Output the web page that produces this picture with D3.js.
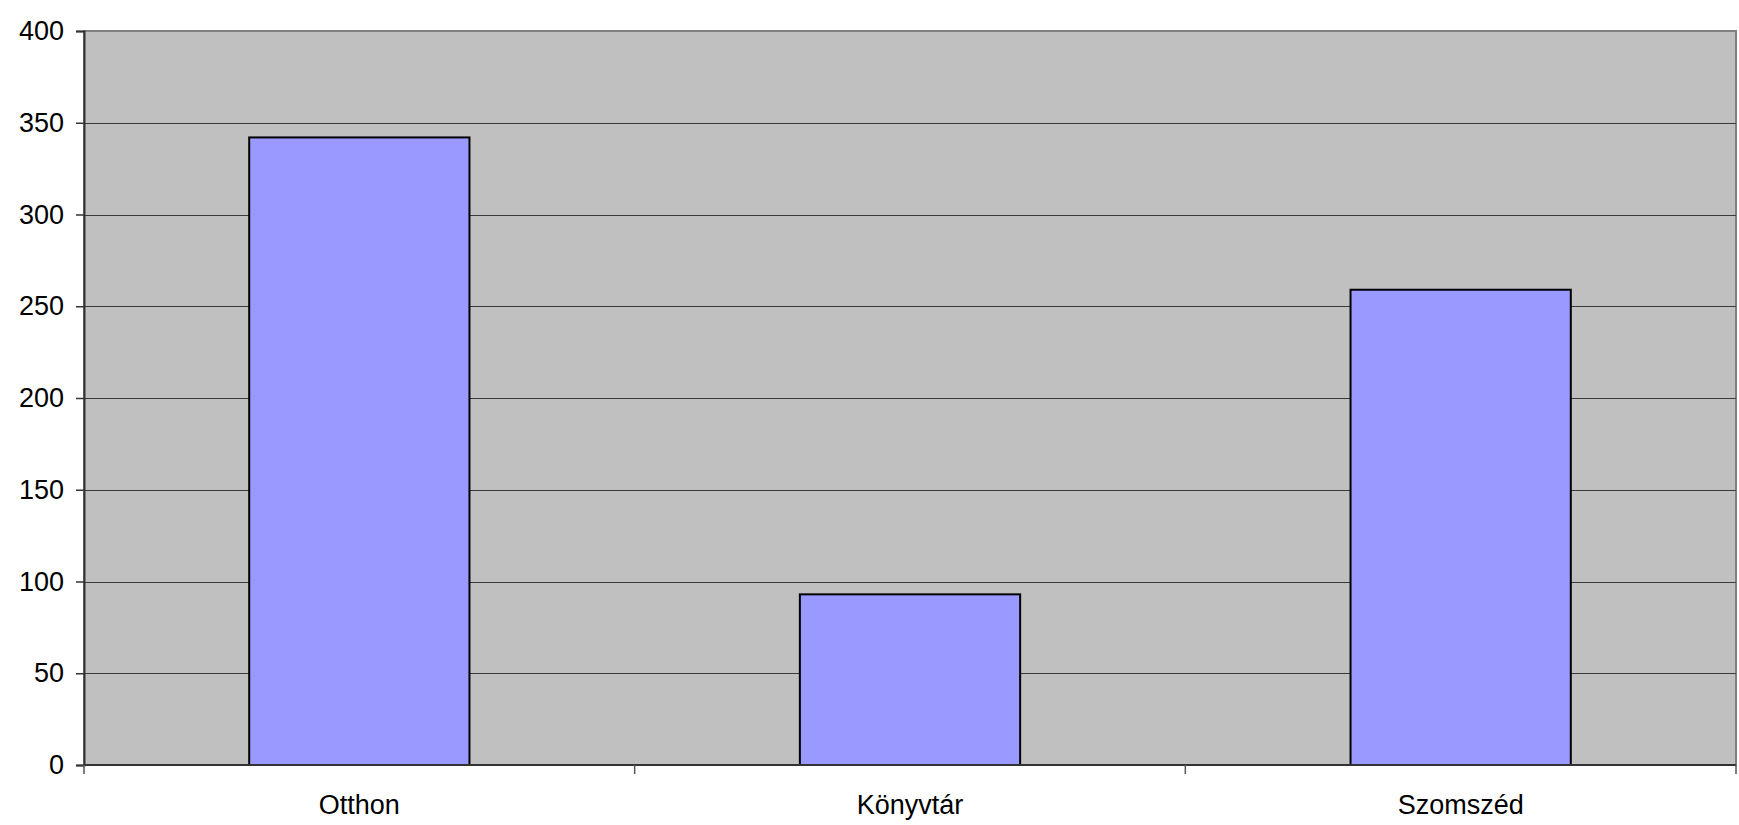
<!DOCTYPE html>
<html>
<head>
<meta charset="utf-8">
<script src="https://cdn.jsdelivr.net/npm/d3@7"></script>
<style>
  html, body { margin: 0; padding: 0; background: #fff; }
</style>
</head>
<body>
<div id="chart"></div>
<script>
// Data.
var categories = ['Otthon', 'Könyvtár', 'Szomszéd'];
var values = [342, 93, 259];
var yTicks = [0, 50, 100, 150, 200, 250, 300, 350, 400];

var width = 1739, height = 825;
var margin = { left: 84, top: 31, right: 3, bottom: 60 };
var fontFamily = 'Arial, "Liberation Sans", sans-serif';
var fontSize = 27;

function translate(x, y) {
  return 'translate(' + x + ', ' + y + ')';
}

var svg = d3.select('#chart').append('svg')
  .attr('width', width)
  .attr('height', height);

var innerW = width - margin.left - margin.right;
var innerH = height - margin.top - margin.bottom;

var g = svg.append('g')
  .attr('transform', translate(margin.left, margin.top));

var x = d3.scaleBand()
  .domain(categories)
  .range([0, innerW])
  .paddingInner(0.6)
  .paddingOuter(0.3);

var y = d3.scaleLinear()
  .domain([0, 400])
  .range([innerH, 0]);

// Plot background.
g.append('rect')
  .attr('x', 0)
  .attr('y', 0)
  .attr('width', innerW)
  .attr('height', innerH)
  .attr('fill', '#c0c0c0')
  .attr('stroke', '#808080')
  .attr('stroke-width', 2);

// Gridlines.
g.selectAll('.grid').data(yTicks.filter(function(d) { return d > 0 && d < 400; }))
  .enter().append('line')
    .classed('grid', true)
    .attr('x1', 0)
    .attr('x2', innerW)
    .attr('y1', function(d) { return Math.round(y(d)) + 0.5; })
    .attr('y2', function(d) { return Math.round(y(d)) + 0.5; })
    .attr('stroke', '#3a3a3a')
    .attr('stroke-width', 1.2);

// Bars.
g.selectAll('.bar').data(values)
  .enter().append('rect')
    .classed('bar', true)
    .attr('x', function(d, i) { return x(categories[i]); })
    .attr('y', function(d) { return y(d); })
    .attr('width', x.bandwidth())
    .attr('height', function(d) { return innerH - y(d); })
    .attr('fill', '#9999ff')
    .attr('stroke', '#000')
    .attr('stroke-width', 2);

// Y axis.
var yAxis = d3.axisLeft(y)
  .tickValues(yTicks)
  .tickSize(8)
  .tickPadding(12);

var yG = g.append('g').call(yAxis);
yG.select('.domain').attr('stroke', '#333').attr('stroke-width', 2);
yG.selectAll('.tick line').attr('stroke', '#333').attr('stroke-width', 1.5);
yG.selectAll('text')
  .attr('fill', '#000')
  .style('font-family', fontFamily)
  .style('font-size', fontSize + 'px');

// X axis: ticks at category boundaries.
var step = x.step();
var boundaries = d3.range(categories.length + 1).map(function(i) { return i * innerW / categories.length; });

var xG = g.append('g').attr('transform', translate(0, innerH));
xG.append('line')
  .attr('x1', 0)
  .attr('x2', innerW)
  .attr('y1', 0)
  .attr('y2', 0)
  .attr('stroke', '#333')
  .attr('stroke-width', 2);
xG.selectAll('.xtick').data(boundaries)
  .enter().append('line')
    .classed('xtick', true)
    .attr('x1', function(d) { return d; })
    .attr('x2', function(d) { return d; })
    .attr('y1', 0)
    .attr('y2', 9)
    .attr('stroke', '#555')
    .attr('stroke-width', 1.5);
xG.selectAll('.xlabel').data(categories)
  .enter().append('text')
    .classed('xlabel', true)
    .attr('x', function(d) { return x(d) + x.bandwidth() / 2; })
    .attr('y', 49)
    .attr('text-anchor', 'middle')
    .attr('fill', '#000')
    .style('font-family', fontFamily)
    .style('font-size', fontSize + 'px')
    .text(function(d) { return d; });
</script>
</body>
</html>
